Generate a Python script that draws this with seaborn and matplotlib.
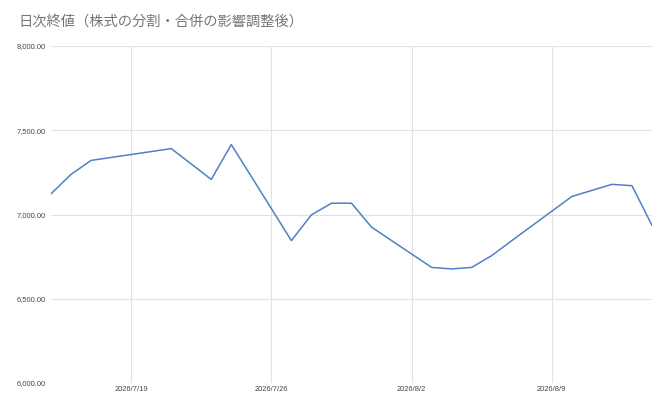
import pandas as pd
import numpy as np
import matplotlib
matplotlib.use("Agg")
import matplotlib.pyplot as plt
import matplotlib.dates as mdates
import seaborn as sns

# ---- data ----
dates = ["2026-07-15", "2026-07-16", "2026-07-17", "2026-07-21", "2026-07-22",
         "2026-07-23", "2026-07-24", "2026-07-27", "2026-07-28", "2026-07-29",
         "2026-07-30", "2026-07-31", "2026-08-03", "2026-08-04", "2026-08-05",
         "2026-08-06", "2026-08-07", "2026-08-10", "2026-08-11", "2026-08-12",
         "2026-08-13", "2026-08-14"]
closes = [7123, 7238, 7321, 7391, 7300,
          7208, 7415, 6845, 6998, 7067,
          7067, 6925, 6686, 6677, 6686,
          6756, 6845, 7107, 7143, 7179,
          7171, 6935]
x_tick_dates = ["2026-07-19", "2026-07-26", "2026-08-02", "2026-08-09"]
x_tick_labels = ["2026/7/19", "2026/7/26", "2026/8/2", "2026/8/9"]
y_ticks = [6000, 6500, 7000, 7500, 8000]
title = "日次終値（株式の分割・合併の影響調整後）"

df = pd.DataFrame({"date": pd.to_datetime(dates), "close": closes})

sns.set_theme(style="white")
plt.rcParams["font.family"] = ["Liberation Sans", "DejaVu Sans"]

fig = plt.figure(figsize=(6.7, 4.07), dpi=100)
ax = fig.add_axes([51 / 670, 1 - 383 / 407, (652 - 51) / 670, (383 - 46) / 407])

sns.lineplot(data=df, x="date", y="close", ax=ax, color="#4f80c6", linewidth=1.1)

ax.set_xlim(pd.Timestamp("2026-07-15"), pd.Timestamp("2026-08-14"))
ax.set_ylim(6000, 8000)
ax.set_xticks(pd.to_datetime(x_tick_dates))
ax.set_xticklabels(x_tick_labels)
ax.set_yticks(y_ticks)
ax.set_yticklabels([f"{v:,.2f}" for v in y_ticks])
ax.set_xlabel("")
ax.set_ylabel("")

ax.grid(True, color="#e2e2e2", linewidth=0.8)
ax.set_axisbelow(True)
for s in ax.spines.values():
    s.set_visible(False)
ax.tick_params(axis="both", length=0, labelsize=5.4, labelcolor="#444444")
ax.tick_params(axis="y", pad=3.6)
ax.tick_params(axis="x", pad=2.5)

fig.text(18 / 670, 1 - 21 / 407, title, fontsize=10.3, color="#757575",
         va="center", ha="left", family=["Noto Sans CJK JP", "DejaVu Sans"])

fig.savefig("out.png", dpi=100, facecolor="white")
